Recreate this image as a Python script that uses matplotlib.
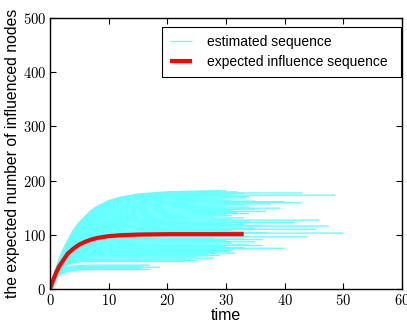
import numpy as np
import matplotlib
matplotlib.use("Agg")
import matplotlib.pyplot as plt
from matplotlib.ticker import FuncFormatter

plt.rcParams["mathtext.fontset"] = "cm"
plt.rcParams["font.family"] = ["Liberation Sans", "DejaVu Sans"]

# time points at which each sequence is sampled
t_grid = [0, 0.5, 1, 1.5, 2, 3, 4, 5, 6, 7, 8, 10, 12, 15, 20, 25, 30, 50]

# fraction of the final spread reached at each time point, by group
rise_low = [0, 0.32, 0.54, 0.68, 0.79, 0.90, 0.954, 0.979, 0.99, 0.995, 0.998, 1, 1, 1, 1, 1, 1, 1]
rise_mid = [0, 0.15, 0.28, 0.39, 0.49, 0.63, 0.74, 0.81, 0.86, 0.90, 0.93, 0.964, 0.982, 0.993, 0.999, 1, 1, 1]
rise_high = [0, 0.11, 0.20, 0.29, 0.37, 0.49, 0.60, 0.68, 0.74, 0.80, 0.84, 0.90, 0.935, 0.967, 0.989, 0.997, 1, 1]

# final spread and last observed time of each estimated sequence
high_final = [181, 180, 179, 178, 177, 176, 175, 174, 173, 172, 170, 168, 166, 164, 162,
              161, 159, 157, 155, 153, 151, 149, 147, 145, 143, 141, 139, 137, 135, 133, 131]
high_end = [30, 29, 32, 28, 43, 33, 31, 27, 48.6, 30, 34, 33.5, 29, 31, 35,
            40, 42.9, 37.5, 33, 30, 34, 39.2, 35, 31, 36.8, 32, 34, 30, 31, 28, 33]
mid_final = [129, 127, 125, 123, 121, 119, 117, 116, 114, 112, 110, 108, 106, 104, 103,
             101, 99, 97, 96, 94, 92, 91, 89, 87, 85, 83, 81, 80, 78, 76, 75, 73, 71]
mid_end = [31, 45.9, 34, 41.7, 30, 33, 36, 47.6, 29, 35, 45.4, 31, 33, 37, 50,
           32, 30, 34, 43.8, 28, 33, 36.2, 30, 35, 31, 29, 34, 36.3, 30, 33, 40, 28, 31]
low_final = [69, 67, 66, 64, 62, 61, 59, 57, 55, 53, 51, 44, 42, 40, 38, 36]
low_end = [30, 28, 31.5, 27, 29, 27, 25, 28, 24, 25, 23, 17, 16, 18.7, 15.5, 17]

# expected influence sequence
expected_t = [0, 0.5, 1, 1.5, 2, 3, 4, 5, 6, 7, 8, 10, 12, 15, 20, 25, 33]
expected_v = [0, 15.5, 29, 40.7, 49, 65, 74.5, 82, 87, 91, 94, 97.4, 99, 100.3, 101, 101, 101]

fig = plt.figure(figsize=(4.07, 3.25), dpi=100)
ax = fig.add_axes([0.123, 0.111, 0.865, 0.834])

cyan = "#66ffff"
first = True
for finals, ends, rise in ((low_final, low_end, rise_low),
                           (mid_final, mid_end, rise_mid),
                           (high_final, high_end, rise_high)):
    for p, T in zip(finals, ends):
        ts = [t for t in t_grid if t < T]
        vs = [p * r for t, r in zip(t_grid, rise) if t < T]
        ts.append(T)
        vs.append(p)
        ax.plot(ts, vs, color=cyan, lw=1.0, solid_capstyle="butt",
                label="estimated sequence" if first else None)
        first = False

ax.plot(expected_t, expected_v, color="red", lw=3.0, solid_capstyle="butt",
        label="expected influence sequence")

ax.set_xlim(0, 60)
ax.set_ylim(0, 500)
ax.set_xticks(range(0, 61, 10))
ax.set_yticks(range(0, 501, 100))
fmt = FuncFormatter(lambda v, pos: r"$%d$" % v)
ax.xaxis.set_major_formatter(fmt)
ax.yaxis.set_major_formatter(fmt)
ax.tick_params(direction="in", length=4, width=0.8, top=True, right=True,
               labelsize=10.5, pad=3)
for s in ax.spines.values():
    s.set_linewidth(1.0)

ax.set_xlabel("time", fontsize=11.5, labelpad=0)
ax.set_ylabel("the expected number of influenced nodes", fontsize=11.3, labelpad=2)

leg = ax.legend(loc="upper right", bbox_to_anchor=(0.3173, 0.80, 0.679, 0.168),
                mode="expand", borderaxespad=0,
                fontsize=10, fancybox=False, framealpha=1, edgecolor="black",
                handlelength=1.6, handletextpad=1.05, labelspacing=0.42,
                borderpad=0.6)
leg.get_frame().set_linewidth(0.8)

fig.savefig("out.png", dpi=100)
